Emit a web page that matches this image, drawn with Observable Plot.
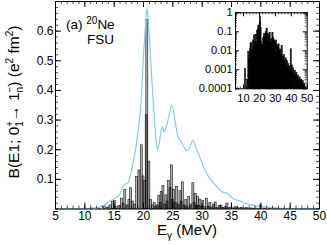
<!DOCTYPE html>
<html><head><meta charset="utf-8">
<script src="https://cdn.jsdelivr.net/npm/d3@7"></script>
<script src="https://cdn.jsdelivr.net/npm/@observablehq/plot@0.6"></script>
<style>
html,body{margin:0;padding:0;background:#fff;}
#wrap{position:relative;width:327px;height:245px;overflow:hidden;font-family:"Liberation Sans",Arial,sans-serif;}
#wrap svg{position:absolute;left:0;top:0;}
</style></head><body><div id="wrap"></div>
<script>
// E1 transition energies (MeV) and strengths B(E1) (e^2 fm^2)
const energies = [11.3,12.6,13.4,13.9,14.4,14.8,15.1,15.5,15.9,16.3,16.6,16.9,17.3,17.6,17.9,18.2,18.5,18.9,19.3,19.7,20.0,20.3,20.55,20.65,21.0,21.3,21.6,21.9,22.2,22.5,22.7,23.0,23.1,23.4,23.7,23.9,24.1,24.3,24.6,24.85,25.0,25.2,25.5,25.7,26.0,26.3,26.5,26.7,27.0,27.3,27.5,27.8,28.1,28.5,28.7,28.9,29.1,29.3,29.5,29.7,30.0,30.2,30.5,30.8,31.1,31.4,31.7,32.0,32.3,32.6,33.0,33.3,33.6,34.0,34.3,34.6,35.0,35.3,35.7,36.0,36.4,36.8,37.2,37.6,38.0,38.4,38.8,39.2,39.6,40.0,40.6,41.0,41.5,42.0,42.5,43.0,43.5,44.0,44.5,45.0,45.5,46.0,46.5,47.0,47.5,48.0,48.5,49.0];
const strengths = [0.0011,0.0003,0.009,0.004,0.012,0.023,0.027,0.006,0.010,0.035,0.018,0.064,0.012,0.030,0.070,0.025,0.015,0.108,0.130,0.215,0.110,0.095,0.316,0.638,0.160,0.030,0.012,0.020,0.008,0.012,0.045,0.020,0.057,0.078,0.015,0.046,0.025,0.095,0.070,0.147,0.030,0.065,0.020,0.075,0.015,0.060,0.025,0.090,0.012,0.030,0.008,0.040,0.015,0.087,0.020,0.050,0.012,0.040,0.010,0.032,0.008,0.027,0.006,0.035,0.007,0.020,0.005,0.015,0.022,0.004,0.010,0.012,0.003,0.006,0.018,0.003,0.005,0.002,0.006,0.003,0.002,0.004,0.0015,0.003,0.0012,0.002,0.001,0.0015,0.0008,0.012,0.0017,0.0008,0.0012,0.0006,0.0009,0.0005,0.0007,0.0004,0.0005,0.0003,0.0004,0.00025,0.0003,0.0002,0.00025,0.00015,0.00018,0.00013];
// smoothed strength function (blue curve)
const curveE = [5,7,9,10,11,12,12.8,13.5,14.2,14.8,15.3,15.8,16.2,16.6,17.0,17.4,17.8,18.1,18.6,19.0,19.5,19.9,20.3,20.6,20.9,21.3,21.75,22.15,22.4,22.7,23.0,23.2,23.55,23.9,24.3,24.85,25.4,25.9,26.5,27.0,27.4,27.8,28.4,29.0,29.5,29.9,30.5,31.0,31.6,32.2,33.0,33.6,34.2,34.8,35.5,36.5,37.5,38.5,39.6,41.0,42.5,44.0,46.0,50];
const curveB = [0.0005,0.0008,0.0015,0.002,0.003,0.005,0.009,0.015,0.025,0.033,0.038,0.045,0.060,0.078,0.085,0.090,0.115,0.145,0.195,0.250,0.340,0.480,0.610,0.679,0.610,0.480,0.335,0.230,0.200,0.225,0.265,0.278,0.260,0.280,0.310,0.350,0.293,0.245,0.225,0.205,0.196,0.205,0.232,0.205,0.180,0.160,0.130,0.112,0.095,0.082,0.065,0.056,0.054,0.042,0.033,0.027,0.018,0.013,0.009,0.006,0.004,0.002,0.0015,0.001];
const xTicks = [5,10,15,20,25,30,35,40,45,50];
const yTicks = [0.1,0.2,0.3,0.4,0.5,0.6];
const insetXTicks = [10,20,30,40,50];
const insetYTicks = [0.0001,0.001,0.01,0.1,1];

const transitions = energies.map((e,i)=>({e, b: strengths[i]}));
const curve = curveE.map((e,i)=>({e, b: curveB[i]}));

const FONT = '"Liberation Sans", Arial, sans-serif';
const W=327, H=245, mL=55, mR=8, mT=1, mB=36.5;
const iW = W-mL-mR, iH = H-mT-mB;
const barW = 0.34;
const xMinor = d3.range(5,50.01,1);
const yMinor = d3.range(0,0.701,0.02);

const main = Plot.plot({
  width: W, height: H, marginLeft: mL, marginRight: mR, marginTop: mT, marginBottom: mB,
  style: {fontFamily: FONT, fontSize: "12px", background: "transparent", color: "#000", overflow: "visible"},
  x: {domain: [5,50], ticks: xTicks, tickFormat: d=>String(d), tickSize: 0, tickPadding: 2, label: null},
  y: {domain: [0,0.7], ticks: yTicks, tickFormat: d=>String(d), tickSize: 0, tickPadding: 2, label: null},
  marks: [
    Plot.rectY(transitions, {x1: d=>d.e-barW/2, x2: d=>d.e+barW/2, y: "b", fill: "#000", fillOpacity: 0.3, stroke: "#000", strokeWidth: 0.6, strokeOpacity: 0.9}),
    Plot.line(curve, {x: "e", y: "b", stroke: "#82cdee", strokeWidth: 1.2, curve: "catmull-rom"}),
    Plot.tickX(xMinor, {x: d=>d, insetTop: iH-3, stroke: "#000", strokeWidth: 0.7}),
    Plot.tickX(xMinor, {x: d=>d, insetBottom: iH-3, stroke: "#000", strokeWidth: 0.7}),
    Plot.tickX(xTicks, {x: d=>d, insetTop: iH-6, stroke: "#000"}),
    Plot.tickX(xTicks, {x: d=>d, insetBottom: iH-6, stroke: "#000"}),
    Plot.tickY(yMinor, {y: d=>d, insetRight: iW-3, stroke: "#000", strokeWidth: 0.7}),
    Plot.tickY(yMinor, {y: d=>d, insetLeft: iW-3, stroke: "#000", strokeWidth: 0.7}),
    Plot.tickY(yTicks, {y: d=>d, insetRight: iW-6, stroke: "#000"}),
    Plot.tickY(yTicks, {y: d=>d, insetLeft: iW-6, stroke: "#000"}),
    Plot.frame({stroke: "#000", strokeWidth: 1})
  ]
});
document.getElementById("wrap").appendChild(main);

const s = d3.select(main);
// y-axis label
const yl = s.append("text").attr("transform","translate(19,102) rotate(-90)").attr("text-anchor","middle").attr("font-size",15.5).attr("fill","#000");
yl.append("tspan").text("B(E1; 0");
yl.append("tspan").attr("font-size",10).attr("dy",4).text("1");
yl.append("tspan").attr("font-size",10).attr("dx",-5.6).attr("dy",-10).text("+");
yl.append("tspan").attr("dy",6).text("\u2192 1");
yl.append("tspan").attr("font-size",10).attr("dy",4).text("n");
yl.append("tspan").attr("font-size",10).attr("dx",-5.6).attr("dy",-10).text("\u2212");
yl.append("tspan").attr("dy",6).text(") (e");
yl.append("tspan").attr("font-size",10).attr("dy",-6).text("2");
yl.append("tspan").attr("dy",6).text(" fm");
yl.append("tspan").attr("font-size",10).attr("dy",-6).text("2");
yl.append("tspan").attr("dy",6).text(")");
// x-axis label
const xl = s.append("text").attr("x",187).attr("y",235).attr("text-anchor","middle").attr("font-size",15).attr("fill","#000");
xl.append("tspan").text("E");
xl.append("tspan").attr("font-size",10).attr("dy",4).text("\u03B3");
xl.append("tspan").attr("dy",-4).text(" (MeV)");
// annotation
const an = s.append("text").attr("x",66).attr("y",28.5).attr("text-anchor","start").attr("font-size",13.5).attr("fill","#000");
an.append("tspan").text("(a) ");
an.append("tspan").attr("font-size",10).attr("dy",-5).text("20");
an.append("tspan").attr("dy",5).text("Ne");
s.append("text").attr("x",100.5).attr("y",44).attr("text-anchor","middle").attr("font-size",13.5).attr("fill","#000").text("FSU");

// inset (log scale)
const IW=120, IH=110, imL=40, imR=8.3, imT=12.3, imB=21.7;
const iiW = IW-imL-imR, iiH = IH-imT-imB;
const insetBase = 0.0001;
const insetBarW = 0.8;
const iXMinor = d3.range(6,50.01,2);
const iYMinor = [];
for (const dec of [0.0001,0.001,0.01,0.1]) for (let k=2;k<=9;k++) iYMinor.push(dec*k);
const inset = Plot.plot({
  width: IW, height: IH, marginLeft: imL, marginRight: imR, marginTop: imT, marginBottom: imB,
  style: {fontFamily: FONT, fontSize: "11px", background: "transparent", color: "#000", overflow: "visible"},
  x: {domain: [5,50], ticks: insetXTicks, tickFormat: d=>String(d), tickSize: 0, tickPadding: 5, label: null},
  y: {type: "log", domain: [0.0001,1], ticks: insetYTicks, tickFormat: d=>String(d), tickSize: 0, tickPadding: 3, label: null},
  marks: [
    Plot.rectY(transitions, {x1: d=>d.e-insetBarW/2, x2: d=>d.e+insetBarW/2, y1: insetBase, y2: "b", fill: "#000", fillOpacity: 0.85, stroke: "#000", strokeWidth: 0.5}),
    Plot.tickX(iXMinor, {x: d=>d, insetTop: iiH-2, stroke: "#000", strokeWidth: 0.7}),
    Plot.tickX(iXMinor, {x: d=>d, insetBottom: iiH-2, stroke: "#000", strokeWidth: 0.7}),
    Plot.tickX(insetXTicks, {x: d=>d, insetTop: iiH-4, stroke: "#000"}),
    Plot.tickX(insetXTicks, {x: d=>d, insetBottom: iiH-4, stroke: "#000"}),
    Plot.tickY(iYMinor, {y: d=>d, insetRight: iiW-2, stroke: "#000", strokeWidth: 0.7}),
    Plot.tickY(iYMinor, {y: d=>d, insetLeft: iiW-2, stroke: "#000", strokeWidth: 0.7}),
    Plot.tickY(insetYTicks, {y: d=>d, insetRight: iiW-4, stroke: "#000"}),
    Plot.tickY(insetYTicks, {y: d=>d, insetLeft: iiW-4, stroke: "#000"}),
    Plot.frame({stroke: "#000", strokeWidth: 1})
  ]
});
inset.style.left = "195px";
inset.style.top = "0px";
document.getElementById("wrap").appendChild(inset);
</script></body></html>
